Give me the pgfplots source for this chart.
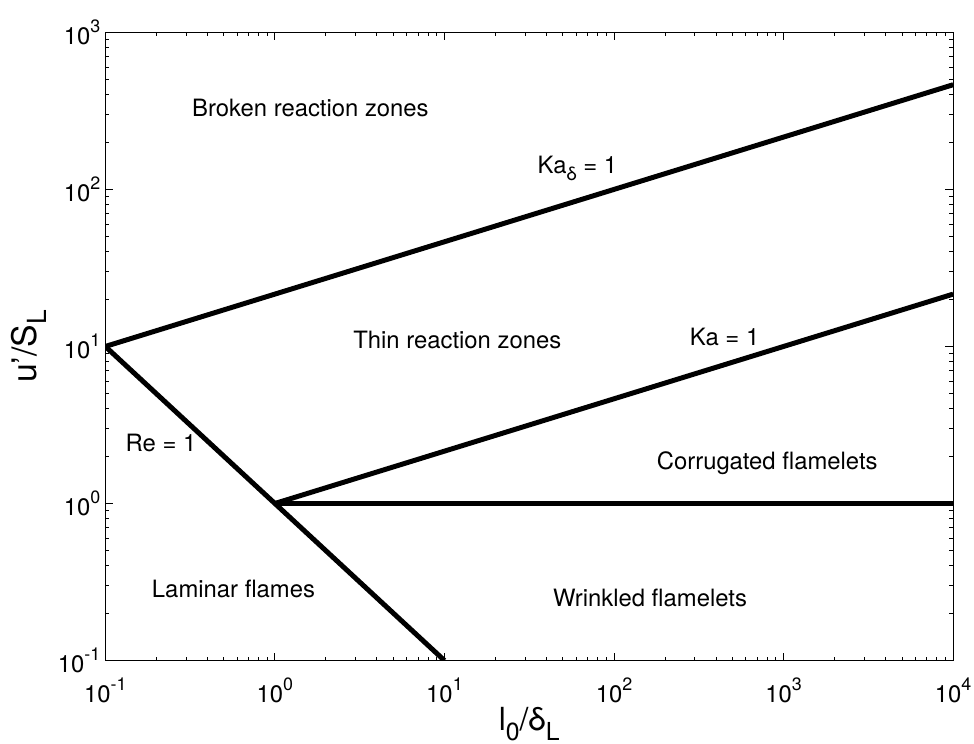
\documentclass[border=0pt]{standalone}
\usepackage{fontspec}
\setmainfont{TeX Gyre Heros}
\usepackage{graphicx}
\usepackage{pgfplots}
\pgfplotsset{compat=1.18}
\newcommand{\lsub}[1]{\raisebox{-0.55ex}{\scalebox{0.78}{#1}}}
\newcommand{\tsup}[1]{\raisebox{0.95ex}{\scalebox{0.75}{#1}}}
\begin{document}
\begin{tikzpicture}
\begin{axis}[
  at={(0,0)}, anchor=south west,
  scale only axis, width=426.5pt, height=316pt,
  xmode=log, ymode=log,
  xmin=0.1, xmax=10000, ymin=0.1, ymax=1000,
  xtick={0.1,1,10,100,1000,10000},
  xticklabels={10\tsup{-1},10\tsup{0},10\tsup{1},10\tsup{2},10\tsup{3},10\tsup{4}},
  ytick={0.1,1,10,100,1000},
  yticklabels={10\tsup{-1},10\tsup{0},10\tsup{1},10\tsup{2},10\tsup{3}},
  minor xtick={0.2,0.3,0.4,0.5,0.6,0.7,0.8,0.9,2,3,4,5,6,7,8,9,20,30,40,50,60,70,80,90,200,300,400,500,600,700,800,900,2000,3000,4000,5000,6000,7000,8000,9000},
  minor ytick={0.2,0.3,0.4,0.5,0.6,0.7,0.8,0.9,2,3,4,5,6,7,8,9,20,30,40,50,60,70,80,90,200,300,400,500,600,700,800,900},
  ticklabel style={font=\fontsize{12}{14}\selectfont},
  xticklabel style={yshift=-5pt},
  yticklabel style={xshift=1pt},
  tick align=inside,
  major tick length=4pt, minor tick length=2pt,
  tick style={black, line width=0.5pt},
  axis line style={line width=0.6pt},
  xlabel={l\lsub{0}/δ\lsub{L}},
  ylabel={u'/S\lsub{L}},
  xlabel style={at={(axis description cs:0.5,0)}, anchor=center, yshift=-32pt, font=\fontsize{16}{18}\selectfont},
  ylabel style={at={(axis description cs:0,0.5)}, anchor=center, yshift=38.5pt, font=\fontsize{17}{19}\selectfont},
]
\addplot[black, line width=2.5pt] coordinates {(0.1,10) (10,0.1)};
\addplot[black, line width=2.5pt] coordinates {(1,1) (10000,1)};
\addplot[black, line width=2.5pt] coordinates {(1,1) (10000,21.544)};
\addplot[black, line width=2.5pt] coordinates {(0.1,10) (10000,464.16)};
\begin{scope}[every node/.style={anchor=base, font=\fontsize{12}{14}\selectfont}]
\node at (axis cs:1.62,290) {Broken reaction zones};
\node at (axis cs:60.8,126) {Ka\lsub{δ} = 1};
\node at (axis cs:11.9,9.7) {Thin reaction zones};
\node at (axis cs:449,10.1) {Ka = 1};
\node at (axis cs:0.213,2.13) {Re = 1};
\node at (axis cs:801,1.64) {Corrugated flamelets};
\node at (axis cs:0.570,0.2506) {Laminar flames};
\node at (axis cs:163,0.22) {Wrinkled flamelets};
\end{scope}
\end{axis}
\pgfresetboundingbox
\path[use as bounding box] (-53pt,-41.5pt) rectangle (437pt,332.3pt);
\end{tikzpicture}
\end{document}
